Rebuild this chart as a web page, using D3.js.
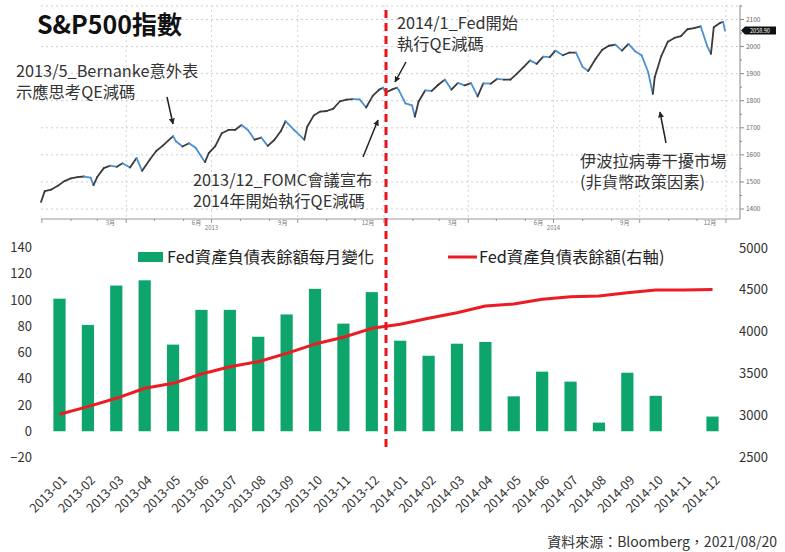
<!DOCTYPE html>
<html lang="zh-Hant">
<head>
<meta charset="UTF-8">
<title>S&P500指數與Fed資產負債表</title>
<script src="https://d3js.org/d3.v7.min.js"></script>
<style>
  body { margin: 0; background: #fff; }
  svg { display: block; font-family: "Noto Sans CJK TC", "Noto Sans", sans-serif; }
</style>
</head>
<body>
<svg width="785" height="552"></svg>
<script>
// S&P500 (週收盤與重要高低點，讀自圖中)
const spxDates = [
  "2012-12-31","2013-01-04","2013-01-11","2013-01-18","2013-01-25","2013-02-01","2013-02-08","2013-02-15",
  "2013-02-22","2013-02-25","2013-03-01","2013-03-08","2013-03-15","2013-03-22","2013-03-28","2013-04-05",
  "2013-04-12","2013-04-18","2013-04-26","2013-05-03","2013-05-10","2013-05-21","2013-05-24","2013-05-31",
  "2013-06-07","2013-06-14","2013-06-24","2013-06-28","2013-07-05","2013-07-12","2013-07-19","2013-07-26",
  "2013-08-02","2013-08-09","2013-08-16","2013-08-23","2013-08-30","2013-09-06","2013-09-13","2013-09-18",
  "2013-09-27","2013-10-08","2013-10-11","2013-10-18","2013-10-25","2013-11-01","2013-11-08","2013-11-15",
  "2013-11-22","2013-11-29","2013-12-06","2013-12-13","2013-12-20","2013-12-27","2013-12-31",
  "2014-01-03","2014-01-10","2014-01-15","2014-01-17","2014-01-24","2014-01-31","2014-02-03","2014-02-07",
  "2014-02-14","2014-02-21","2014-02-28","2014-03-07","2014-03-14","2014-03-21","2014-03-28","2014-04-04",
  "2014-04-11","2014-04-17","2014-04-25","2014-05-02","2014-05-09","2014-05-16","2014-05-23","2014-05-30",
  "2014-06-06","2014-06-13","2014-06-20","2014-06-27","2014-07-03","2014-07-11","2014-07-18","2014-07-25",
  "2014-08-01","2014-08-07","2014-08-15","2014-08-22","2014-08-29","2014-09-05","2014-09-12","2014-09-19",
  "2014-09-26","2014-10-03","2014-10-10","2014-10-15","2014-10-17","2014-10-24","2014-10-31","2014-11-07",
  "2014-11-14","2014-11-21","2014-11-28","2014-12-05","2014-12-12","2014-12-16","2014-12-19","2014-12-26",
  "2014-12-29","2014-12-31"
];
const spxValues = [
  1426,1466,1472,1486,1503,1513,1518,1520,
  1516,1488,1518,1551,1560,1556,1569,1553,
  1588,1541,1582,1614,1634,1669,1650,1631,
  1643,1626,1573,1606,1632,1680,1692,1692,
  1710,1691,1656,1664,1633,1655,1688,1725,
  1692,1656,1703,1745,1760,1762,1771,1798,
  1804,1806,1805,1775,1818,1841,1848,
  1831,1842,1848,1838,1790,1783,1741,1797,
  1838,1836,1859,1878,1841,1866,1857,1865,
  1816,1864,1863,1881,1878,1878,1900,1924,
  1949,1936,1963,1961,1985,1968,1978,1978,
  1925,1910,1955,1988,2003,2007,1985,2010,
  1983,1968,1906,1825,1887,1965,2018,2032,
  2039,2064,2068,2075,2002,1973,2071,2088,
  2091,2059
];
const spxTicks = [1400, 1500, 1600, 1700, 1800, 1900, 2000, 2100];
const spxLast = "2058.90";

// Fed 資產負債表
const months = [
  "2013-01","2013-02","2013-03","2013-04","2013-05","2013-06","2013-07","2013-08","2013-09","2013-10","2013-11","2013-12",
  "2014-01","2014-02","2014-03","2014-04","2014-05","2014-06","2014-07","2014-08","2014-09","2014-10","2014-11","2014-12"
];
const fedChange = [101, 81, 111, 115, 66, 92.5, 92.5, 72, 89, 108.5, 82, 106,
                   69, 57.5, 66.7, 68, 26.6, 45.4, 37.8, 6.6, 44.6, 27, 0, 11.2];
const fedTotal = [3011, 3102, 3202, 3322, 3381, 3493, 3580, 3640, 3740, 3851, 3932, 4039,
                  4087, 4159, 4226, 4306, 4330, 4386, 4417, 4425, 4465, 4497, 4497, 4505];
const leftTicks = [-20, 0, 20, 40, 60, 80, 100, 120, 140];
const rightTicks = [2500, 3000, 3500, 4000, 4500, 5000];

const svg = d3.select("svg");
const parse = d3.timeParse("%Y-%m-%d");
const spx = spxDates.map((d, i) => ({ date: parse(d), value: spxValues[i] }));

// ---------- 上半部：S&P500 ----------
const x = d3.scaleTime().domain([parse("2012-12-31"), parse("2014-12-31")]).range([41, 725]);
const y = d3.scaleLinear().domain([1400, 2100]).range([209, 19.5]);
const topG = svg.append("g");

// 格線
topG.append("g").selectAll("line")
  .data(spxTicks.concat([2150]))
  .join("line")
  .attr("x1", 41).attr("x2", 740)
  .attr("y1", d => y(d)).attr("y2", d => y(d))
  .attr("stroke", "#cfcfcf").attr("stroke-dasharray", "2,3");

const quarters = d3.timeMonth.every(3).range(parse("2013-04-01"), parse("2015-01-02"));
topG.append("g").selectAll("line")
  .data(quarters)
  .join("line")
  .attr("x1", d => x(d)).attr("x2", d => x(d))
  .attr("y1", 5).attr("y2", 219)
  .attr("stroke", "#d5d5d5").attr("stroke-dasharray", "2,3");

// 下方時間軸
topG.append("line").attr("x1", 41).attr("x2", 740).attr("y1", 219).attr("y2", 219).attr("stroke", "#999");
topG.append("g").selectAll("line")
  .data(d3.timeMonth.range(parse("2013-01-01"), parse("2015-01-02")))
  .join("line")
  .attr("x1", d => x(d)).attr("x2", d => x(d))
  .attr("y1", 219).attr("y2", d => d.getMonth() % 3 === 0 ? 223 : 221)
  .attr("stroke", "#999");
const monthLabels = [3, 6, 9, 12].flatMap(m => [2013, 2014].map(yr => new Date(yr, m - 1, 15)));
topG.append("g").selectAll("text")
  .data(monthLabels)
  .join("text")
  .attr("x", d => x(d)).attr("y", 225)
  .attr("text-anchor", "middle")
  .attr("font-size", 6).attr("fill", "#777")
  .text(d => (d.getMonth() + 1) + "月");
topG.append("g").selectAll("text")
  .data([2013, 2014])
  .join("text")
  .attr("x", d => x(new Date(d, 6, 1))).attr("y", 230)
  .attr("text-anchor", "middle")
  .attr("font-size", 6).attr("fill", "#777")
  .text(d => d);

// 右軸
topG.append("line").attr("x1", 740).attr("x2", 740).attr("y1", 5).attr("y2", 219).attr("stroke", "#888");
topG.append("g").selectAll("line")
  .data(d3.range(1400, 2151, 50))
  .join("line")
  .attr("x1", 740).attr("x2", d => d % 100 === 0 ? 744 : 742)
  .attr("y1", d => y(d)).attr("y2", d => y(d))
  .attr("stroke", "#888");
topG.append("g").selectAll("text")
  .data(spxTicks)
  .join("text")
  .attr("x", 746).attr("y", d => y(d)).attr("dy", "0.35em")
  .attr("font-size", 6.5).attr("fill", "#666")
  .text(d => d);

// 最新值標籤
const lastY = y(spxValues[spxValues.length - 1]);
topG.append("path")
  .attr("d", `M741,${lastY} L745,${lastY - 4} L776,${lastY - 4} L776,${lastY + 4} L745,${lastY + 4} Z`)
  .attr("fill", "#111");
topG.append("text")
  .attr("x", 760).attr("y", lastY).attr("dy", "0.35em")
  .attr("text-anchor", "middle").attr("font-size", 5.5).attr("fill", "#fff")
  .text(spxLast);

// 指數線：上漲深灰、下跌藍色
const segs = d3.pairs(spx);
topG.append("g").selectAll("line")
  .data(segs)
  .join("line")
  .attr("x1", d => x(d[0].date)).attr("y1", d => y(d[0].value))
  .attr("x2", d => x(d[1].date)).attr("y2", d => y(d[1].value))
  .attr("stroke", d => d[1].value >= d[0].value ? "#3b3b3b" : "#4a8fd0")
  .attr("stroke-width", 1.8)
  .attr("stroke-linecap", "round");

// 標題
svg.append("text")
  .attr("x", 37).attr("y", 34)
  .attr("font-size", 25).attr("font-weight", "bold").attr("fill", "#111")
  .text("S&P500指數");

// 註解
const notes = [
  { x: 16, y: 77, lines: ["2013/5_Bernanke意外表", "示應思考QE減碼"] },
  { x: 193, y: 186, lines: ["2013/12_FOMC會議宣布", "2014年開始執行QE減碼"] },
  { x: 397, y: 29, lines: ["2014/1_Fed開始", "執行QE減碼"] },
  { x: 580, y: 167, lines: ["伊波拉病毒干擾市場", "(非貨幣政策因素)"] }
];
notes.forEach(n => {
  svg.append("text")
    .attr("x", n.x).attr("y", n.y)
    .attr("font-size", 16.3).attr("fill", "#333")
    .selectAll("tspan")
    .data(n.lines)
    .join("tspan")
    .attr("x", n.x).attr("dy", (d, i) => i === 0 ? 0 : 21)
    .text(d => d);
});

svg.append("defs").append("marker")
  .attr("id", "ah").attr("viewBox", "0 0 10 10")
  .attr("refX", 9).attr("refY", 5)
  .attr("markerWidth", 4).attr("markerHeight", 4)
  .attr("orient", "auto")
  .append("path").attr("d", "M0,0 L10,5 L0,10 Z").attr("fill", "#222");

const arrows = [
  [167, 97, 173, 124],
  [363, 157, 378, 120],
  [406, 62, 395, 82],
  [666, 143, 660, 112]
];
svg.append("g").selectAll("line")
  .data(arrows)
  .join("line")
  .attr("x1", d => d[0]).attr("y1", d => d[1])
  .attr("x2", d => d[2]).attr("y2", d => d[3])
  .attr("stroke", "#222").attr("stroke-width", 1.5)
  .attr("marker-end", "url(#ah)");

// ---------- 下半部：Fed 資產負債表 ----------
const bx = d3.scaleBand().domain(months).range([45.3, 726.7]).paddingInner(0.57).paddingOuter(0.285);
const yl = d3.scaleLinear().domain([-20, 140]).range([457.5, 247.5]);
const yr = d3.scaleLinear().domain([2500, 5000]).range([457, 248]);

const bottomG = svg.append("g");

bottomG.append("g")
  .attr("transform", "translate(32,0)")
  .call(d3.axisLeft(yl).tickValues(leftTicks).tickSize(0).tickPadding(0))
  .call(g => g.select(".domain").remove())
  .selectAll("text")
  .attr("font-size", 13).attr("fill", "#333")
  .attr("font-family", "Noto Sans CJK TC, sans-serif");

bottomG.append("g")
  .attr("transform", "translate(739,0)")
  .call(d3.axisRight(yr).tickValues(rightTicks).tickFormat(d3.format("d")).tickSize(0).tickPadding(0))
  .call(g => g.select(".domain").remove())
  .selectAll("text")
  .attr("font-size", 13).attr("fill", "#333")
  .attr("font-family", "Noto Sans CJK TC, sans-serif");

bottomG.append("g").selectAll("rect")
  .data(months.map((m, i) => ({ m, v: fedChange[i] })))
  .join("rect")
  .attr("x", d => bx(d.m)).attr("width", bx.bandwidth())
  .attr("y", d => yl(d.v)).attr("height", d => yl(0) - yl(d.v))
  .attr("fill", "#0ea56c");

const line = d3.line()
  .x((d, i) => bx(months[i]) + bx.bandwidth() / 2)
  .y(d => yr(d));
bottomG.append("path")
  .datum(fedTotal)
  .attr("d", line)
  .attr("fill", "none").attr("stroke", "#ec1c24").attr("stroke-width", 3)
  .attr("stroke-linejoin", "round");

bottomG.append("g").selectAll("text")
  .data(months)
  .join("text")
  .attr("transform", d => `translate(${bx(d) + bx.bandwidth() / 2 + 5},478) rotate(-45)`)
  .attr("text-anchor", "end").attr("dy", "0.35em")
  .attr("font-size", 12.5).attr("fill", "#333")
  .text(d => d);

// 圖例
bottomG.append("rect").attr("x", 138).attr("y", 252).attr("width", 25).attr("height", 10).attr("fill", "#0ea56c");
bottomG.append("text").attr("x", 167).attr("y", 263).attr("font-size", 16.3).attr("fill", "#222")
  .text("Fed資產負債表餘額每月變化");
bottomG.append("line").attr("x1", 448).attr("x2", 477).attr("y1", 257).attr("y2", 257)
  .attr("stroke", "#ec1c24").attr("stroke-width", 3);
bottomG.append("text").attr("x", 479).attr("y", 263).attr("font-size", 16.3).attr("fill", "#222")
  .text("Fed資產負債表餘額(右軸)");

// 紅色虛線：2014/1
const splitX = bx("2014-01") - bx.step() * bx.paddingInner() / 2;
svg.append("line")
  .attr("x1", splitX).attr("x2", splitX)
  .attr("y1", 10).attr("y2", 450)
  .attr("stroke", "#e8141a").attr("stroke-width", 3)
  .attr("stroke-dasharray", "8,5");

// 資料來源
svg.append("text")
  .attr("x", 777).attr("y", 547)
  .attr("text-anchor", "end").attr("font-size", 14).attr("fill", "#333")
  .text("資料來源：Bloomberg，2021/08/20");
</script>
</body>
</html>
